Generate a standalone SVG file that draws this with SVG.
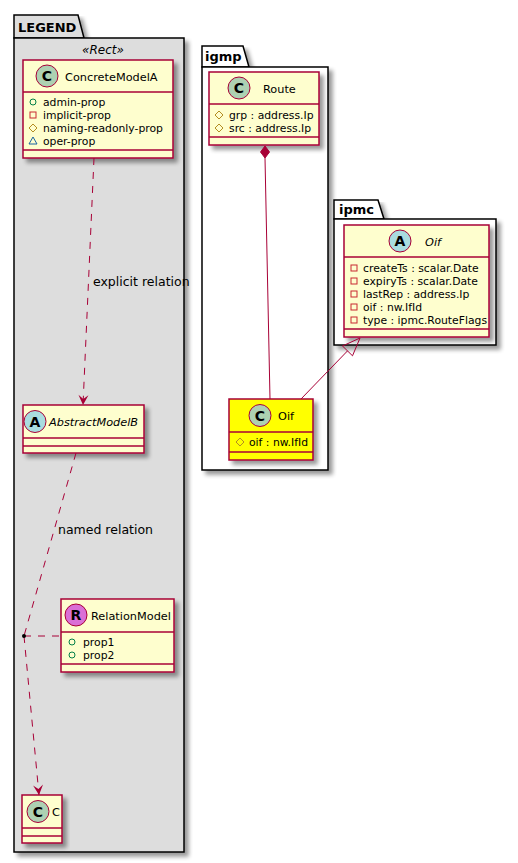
<svg xmlns="http://www.w3.org/2000/svg" width="518" height="863" viewBox="0 0 518 863">
<defs>
<filter id="sh" x="-10%" y="-10%" width="130%" height="130%">
<feGaussianBlur in="SourceAlpha" stdDeviation="2"/>
<feOffset dx="4" dy="4" result="b"/>
<feComponentTransfer><feFuncA type="linear" slope="0.4"/></feComponentTransfer>
<feMerge><feMergeNode/><feMergeNode in="SourceGraphic"/></feMerge>
</filter>
<marker id="arr" viewBox="-11 -6 12 12" refX="0" refY="0" markerWidth="12" markerHeight="12" markerUnits="userSpaceOnUse" orient="auto">
<path d="M0,0 L-10,-5 L-6,0 L-10,5 Z" fill="#A80036"/>
</marker>
<style>
text{font-family:"DejaVu Sans","Liberation Sans",sans-serif;fill:#000}
.pkg{stroke:#000;stroke-width:1.5}
.pname{font-size:13px;font-weight:bold}
.box{fill:#FEFECE;stroke:#A80036;stroke-width:1.5}
.sep{stroke:#A80036;stroke-width:1.5}
.cn{font-size:11.3px}
.it{font-style:italic}
.at{font-size:10.8px}
.circ{stroke:#A80036;stroke-width:1}
.cl{font-size:14px;font-weight:bold;text-anchor:middle}
.pub{fill:none;stroke:#038048;stroke-width:1}
.pri{fill:none;stroke:#C82930;stroke-width:1}
.pro{fill:none;stroke:#B38D22;stroke-width:1}
.pkv{fill:none;stroke:#1963A0;stroke-width:1}
.lab{font-size:12.5px}
.dash{fill:none;stroke:#A80036;stroke-width:1;stroke-dasharray:7,7}
.solid{fill:none;stroke:#A80036;stroke-width:1}
</style>
</defs>

<g id="pkg-legend">
<path class="pkg" d="M14,38 V15 H78 L84,38 Z" fill="#DDDDDD" filter="url(#sh)"/>
<rect class="pkg" x="14" y="38" width="170" height="814" fill="#DDDDDD" filter="url(#sh)"/>
<text class="pname" x="18" y="32">LEGEND</text>
<text class="it" x="103" y="54" font-size="12" text-anchor="middle">«Rect»</text>
</g>

<g id="pkg-igmp">
<path class="pkg" d="M202,67 V46 H243 L249,67 Z" fill="#FFFFFF" filter="url(#sh)"/>
<rect class="pkg" x="202" y="67" width="126" height="403" fill="#FFFFFF" filter="url(#sh)"/>
<text class="pname" x="205" y="61">igmp</text>
</g>

<g id="pkg-ipmc">
<path class="pkg" d="M334,219 V200 H378 L384,219 Z" fill="#FFFFFF" filter="url(#sh)"/>
<rect class="pkg" x="334" y="219" width="162" height="126" fill="#FFFFFF" filter="url(#sh)"/>
<text class="pname" x="339" y="214">ipmc</text>
</g>

<g id="ConcreteModelA">
<rect class="box" x="23" y="60" width="150" height="98" filter="url(#sh)"/>
<line class="sep" x1="23" y1="92" x2="173" y2="92"/>
<line class="sep" x1="23" y1="150" x2="173" y2="150"/>
<circle class="circ" cx="47" cy="76" r="11" fill="#ADD1B2"/>
<text class="cl" x="47" y="81">C</text>
<text class="cn" x="65" y="81">ConcreteModelA</text>
<circle class="pub" cx="33" cy="102" r="3"/>
<text class="at" x="43" y="106">admin-prop</text>
<rect class="pri" x="30" y="112" width="6" height="6"/>
<text class="at" x="43" y="119">implicit-prop</text>
<path class="pro" d="M33,124 L37,128 L33,132 L29,128 Z"/>
<text class="at" x="43" y="132">naming-readonly-prop</text>
<path class="pkv" d="M33,137 L37,144 L29,144 Z"/>
<text class="at" x="43" y="145">oper-prop</text>
</g>

<g id="AbstractModelB">
<rect class="box" x="23" y="405" width="121" height="48" filter="url(#sh)"/>
<line class="sep" x1="23" y1="438" x2="144" y2="438"/>
<line class="sep" x1="23" y1="446" x2="144" y2="446"/>
<circle class="circ" cx="35" cy="421.5" r="11" fill="#A9DCDF"/>
<text class="cl" x="35" y="426.5">A</text>
<text class="cn it" x="49" y="426">AbstractModelB</text>
</g>

<g id="RelationModel">
<rect class="box" x="61" y="599" width="113" height="73" filter="url(#sh)"/>
<line class="sep" x1="61" y1="632" x2="174" y2="632"/>
<line class="sep" x1="61" y1="664" x2="174" y2="664"/>
<circle class="circ" cx="76" cy="615" r="11" fill="#DA70D6"/>
<text class="cl" x="76" y="620">R</text>
<text class="cn" x="91" y="620">RelationModel</text>
<circle class="pub" cx="72" cy="642" r="3"/>
<text class="at" x="83" y="646">prop1</text>
<circle class="pub" cx="72" cy="655" r="3"/>
<text class="at" x="83" y="659">prop2</text>
</g>

<g id="C">
<rect class="box" x="22" y="795" width="40" height="48" filter="url(#sh)"/>
<line class="sep" x1="22" y1="828" x2="62" y2="828"/>
<line class="sep" x1="22" y1="836" x2="62" y2="836"/>
<circle class="circ" cx="38" cy="811.5" r="11" fill="#ADD1B2"/>
<text class="cl" x="38" y="816.5">C</text>
<text class="cn" x="52" y="816">C</text>
</g>

<g id="igmp.Route">
<rect class="box" x="209" y="72" width="110" height="73" filter="url(#sh)"/>
<line class="sep" x1="209" y1="104" x2="319" y2="104"/>
<line class="sep" x1="209" y1="137" x2="319" y2="137"/>
<circle class="circ" cx="239" cy="88" r="11" fill="#ADD1B2"/>
<text class="cl" x="239" y="93">C</text>
<text class="cn" x="263" y="93">Route</text>
<path class="pro" d="M219,111 L223,115 L219,119 L215,115 Z"/>
<text class="at" x="229" y="119">grp : address.Ip</text>
<path class="pro" d="M219,124 L223,128 L219,132 L215,128 Z"/>
<text class="at" x="229" y="132">src : address.Ip</text>
</g>

<g id="igmp.Oif">
<rect x="229" y="399" width="84" height="61" fill="#FFFF00" stroke="#A80036" stroke-width="1.5" filter="url(#sh)"/>
<line class="sep" x1="229" y1="432" x2="313" y2="432"/>
<line class="sep" x1="229" y1="452" x2="313" y2="452"/>
<circle class="circ" cx="260" cy="415.5" r="11" fill="#ADD1B2"/>
<text class="cl" x="260" y="420.5">C</text>
<text class="cn" x="278" y="420">Oif</text>
<path class="pro" d="M240,438 L244,442 L240,446 L236,442 Z"/>
<text class="at" x="249" y="446">oif : nw.IfId</text>
</g>

<g id="ipmc.Oif">
<rect class="box" x="344" y="225" width="145" height="112" filter="url(#sh)"/>
<line class="sep" x1="344" y1="257" x2="489" y2="257"/>
<line class="sep" x1="344" y1="329" x2="489" y2="329"/>
<circle class="circ" cx="400" cy="241" r="11" fill="#A9DCDF"/>
<text class="cl" x="400" y="246">A</text>
<text class="cn it" x="425" y="246">Oif</text>
<rect class="pri" x="351" y="265" width="6" height="6"/>
<text class="at" x="363" y="272">createTs : scalar.Date</text>
<rect class="pri" x="351" y="278" width="6" height="6"/>
<text class="at" x="363" y="285">expiryTs : scalar.Date</text>
<rect class="pri" x="351" y="291" width="6" height="6"/>
<text class="at" x="363" y="298">lastRep : address.Ip</text>
<rect class="pri" x="351" y="304" width="6" height="6"/>
<text class="at" x="363" y="311">oif : nw.IfId</text>
<rect class="pri" x="351" y="317" width="6" height="6"/>
<text class="at" x="363" y="324">type : ipmc.RouteFlags</text>
</g>

<g id="connectors">
<line class="dash" x1="94" y1="158" x2="83" y2="405" marker-end="url(#arr)"/>
<text class="lab" x="93" y="286">explicit relation</text>
<line class="dash" x1="76" y1="453" x2="24" y2="636"/>
<text class="lab" x="58" y="534">named relation</text>
<line class="dash" x1="24" y1="636" x2="39" y2="795" marker-end="url(#arr)"/>
<line class="dash" x1="24" y1="636" x2="61" y2="636"/>
<circle cx="24" cy="636" r="2" fill="#000"/>
<line class="solid" x1="265" y1="158" x2="270" y2="399"/>
<path d="M265,146 L269.5,152 L265,158 L260.5,152 Z" fill="#A80036" stroke="#A80036" stroke-width="1"/>
<line class="solid" x1="301" y1="399" x2="347.5" y2="350.9"/>
<path d="M360,338 L352.5,355.8 L342.5,346 Z" fill="none" stroke="#A80036" stroke-width="1"/>
</g>
</svg>
